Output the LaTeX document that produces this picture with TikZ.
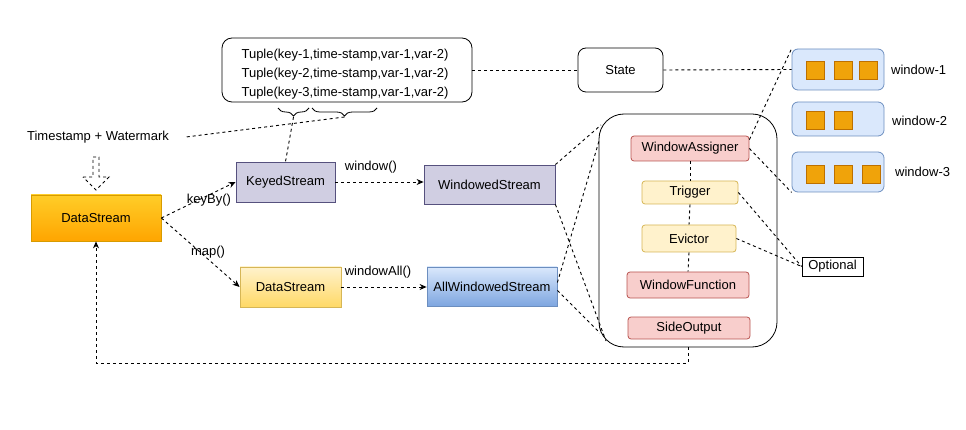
\documentclass[tikz,border=0pt]{standalone}
\usepackage{fontspec}
\setmainfont{Liberation Sans}
\usetikzlibrary{arrows.meta,decorations.pathreplacing,calc}
\definecolor{oraT}{HTML}{FFCD28}\definecolor{oraB}{HTML}{FFA500}\definecolor{oraD}{HTML}{D79B00}
\definecolor{purF}{HTML}{D0CEE2}\definecolor{purD}{HTML}{56517E}
\definecolor{yelT}{HTML}{FFF2CC}\definecolor{yelB}{HTML}{FFD966}\definecolor{yelD}{HTML}{D6B656}
\definecolor{bluT}{HTML}{DAE8FC}\definecolor{bluB}{HTML}{7EA6E0}\definecolor{bluD}{HTML}{6C8EBF}
\definecolor{redF}{HTML}{F8CECC}\definecolor{redD}{HTML}{B85450}
\definecolor{sqF}{HTML}{F0A30A}\definecolor{sqD}{HTML}{BD7000}
\tikzset{
  box/.style={draw, line width=0.8pt, inner sep=0pt, font=\fontsize{13}{15}\selectfont},
  txt/.style={inner sep=0pt, font=\fontsize{13}{15}\selectfont},
  dsh/.style={line width=0.9pt, dash pattern=on 3pt off 3pt},
  arr/.style={dsh, -{Stealth[length=7pt,width=6pt]}},
  brc/.style={line width=0.8pt, decorate, decoration={brace, amplitude=8pt}},
  sq/.style={draw=sqD, fill=sqF, line width=0.8pt, minimum width=18pt, minimum height=18pt, inner sep=0pt},
  win/.style={draw=bluD, fill=bluT, line width=0.8pt, rounded corners=6pt, minimum width=92pt, inner sep=0pt}
}
\begin{document}
\begin{tikzpicture}[x=1pt,y=-1pt]
\useasboundingbox (0,0) rectangle (966,430);
% tuple box
\node[box, rounded corners=10pt, minimum width=250pt, minimum height=64pt] (tuple) at (347,70) {};
\node[txt] (t1) at (345,55) {Tuple(key-1,time-stamp,var-1,var-2)};
\node[txt] (t2) at (345,74) {Tuple(key-2,time-stamp,var-1,var-2)};
\node[txt] (t3) at (345,93) {Tuple(key-3,time-stamp,var-1,var-2)};
\draw[brc] (309,108) -- (278,108);
\draw[brc] (377,108) -- (312,108);
\coordinate (bl) at (293.5,117);
\coordinate (br) at (344.5,117);
% state
\node[box, rounded corners=8pt, minimum width=85pt, minimum height=44pt] (state) at (620.5,70) {State};
% timestamp
\node[txt] (ts) at (98,137) {Timestamp + Watermark};
\coordinate (tse) at (186,137);
\draw[dsh] (83,177) -- (93,177) -- (93,157) -- (99,157) -- (99,177) -- (109,177) -- (96,190) -- cycle;
% streams
\node[box, draw=oraD, top color=oraT, bottom color=oraB, minimum width=130pt, minimum height=46pt] (ds) at (96,218) {DataStream};
\node[box, draw=purD, fill=purF, minimum width=99pt, minimum height=40pt] (keyed) at (285.5,182) {KeyedStream};
\node[box, draw=purD, fill=purF, minimum width=131pt, minimum height=39pt] (ws) at (489.5,184.5) {WindowedStream};
\node[box, draw=yelD, top color=yelT, bottom color=yelB, minimum width=101pt, minimum height=40pt] (ds2) at (290.5,287) {DataStream};
\node[box, draw=bluD, top color=bluT, bottom color=bluB, minimum width=130pt, minimum height=39pt] (aws) at (492,286.5) {AllWindowedStream};
% container
\node[box, rounded corners=25pt, minimum width=178pt, minimum height=233pt] (cont) at (688,230.5) {};
\node[box, draw=redD, fill=redF, rounded corners=3pt, minimum width=118pt, minimum height=25pt] (wa) at (690,148.5) {WindowAssigner};
\node[box, draw=yelD, fill=yelT, rounded corners=3pt, minimum width=96pt, minimum height=23pt] (trig) at (690,192.5) {Trigger};
\node[box, draw=yelD, fill=yelT, rounded corners=3pt, minimum width=94pt, minimum height=27pt] (evic) at (689,238.5) {Evictor};
\node[box, draw=redD, fill=redF, rounded corners=3pt, minimum width=122pt, minimum height=26pt] (wf) at (688,285) {WindowFunction};
\node[box, draw=redD, fill=redF, rounded corners=3pt, minimum width=122pt, minimum height=22pt] (so) at (689,328) {SideOutput};
\node[box, minimum width=61pt, minimum height=19pt] (opt) at (832.5,266.5) {Optional};
% windows
\node[win, minimum height=41pt] (w1) at (838,69.5) {};
\node[win, minimum height=34pt] (w2) at (838,119) {};
\node[win, minimum height=40pt] (w3) at (838,172) {};
\node[sq] (s11) at (815,70) {};\node[sq] (s12) at (843,70) {};\node[sq] (s13) at (868,70) {};
\node[sq] (s21) at (815,120) {};\node[sq] (s22) at (843,120) {};
\node[sq] (s31) at (815,174) {};\node[sq] (s32) at (843,174) {};\node[sq] (s33) at (871,174) {};
\node[txt, anchor=west] (l1) at (891,70) {window-1};
\node[txt, anchor=west] (l2) at (892,121) {window-2};
\node[txt, anchor=west] (l3) at (895,172) {window-3};
% container attach points
\coordinate (c1) at (601,125);
\coordinate (c2) at (599,141);
\coordinate (c3) at (606,341);
\coordinate (c4) at (600,333);
% connectors
\draw[dsh] (tuple.east) -- (state.west);
\draw[dsh] (state.east) -- (w1.west);
\draw[dsh] (br) -- (tse);
\draw[dsh] (bl) -- (keyed.north);
\draw[arr] (ds.east) -- (keyed.west);
\draw[arr] (ds.east) -- (ds2.west);
\node[txt] (lk) at (209,200) {keyBy()};
\node[txt] (lm) at (208,252) {map()};
\draw[arr] (keyed.east) -- (keyed.east -| ws.west);
\node[txt] (lw) at (371,167) {window()};
\draw[arr] (ds2.east) -- (ds2.east -| aws.west);
\node[txt] (lwa) at (378,272) {windowAll()};
\draw[dsh] (ws.north east) -- (c1);
\draw[dsh] (ws.south east) -- (c3);
\draw[dsh] ($(aws.east)+(0,-4)$) -- (c2);
\draw[dsh] ($(aws.east)+(0,4)$) -- (c4);
\draw[dsh] ($(wa.north east)+(0,4)$) -- (w1.north west);
\draw[dsh] (wa.east) -- (w3.south west);
\draw[dsh] (wa.south) -- (trig.north);
\draw[dsh] (trig.south) -- (evic.north);
\draw[dsh] (evic.south) -- (wf.north);
\draw[dsh] (trig.east) -- (opt.west);
\draw[dsh] (evic.east) -- (opt.west);
\draw[arr] (cont.south) -- (cont.south |- 0,363) -| (ds.south);
\end{tikzpicture}
\end{document}
